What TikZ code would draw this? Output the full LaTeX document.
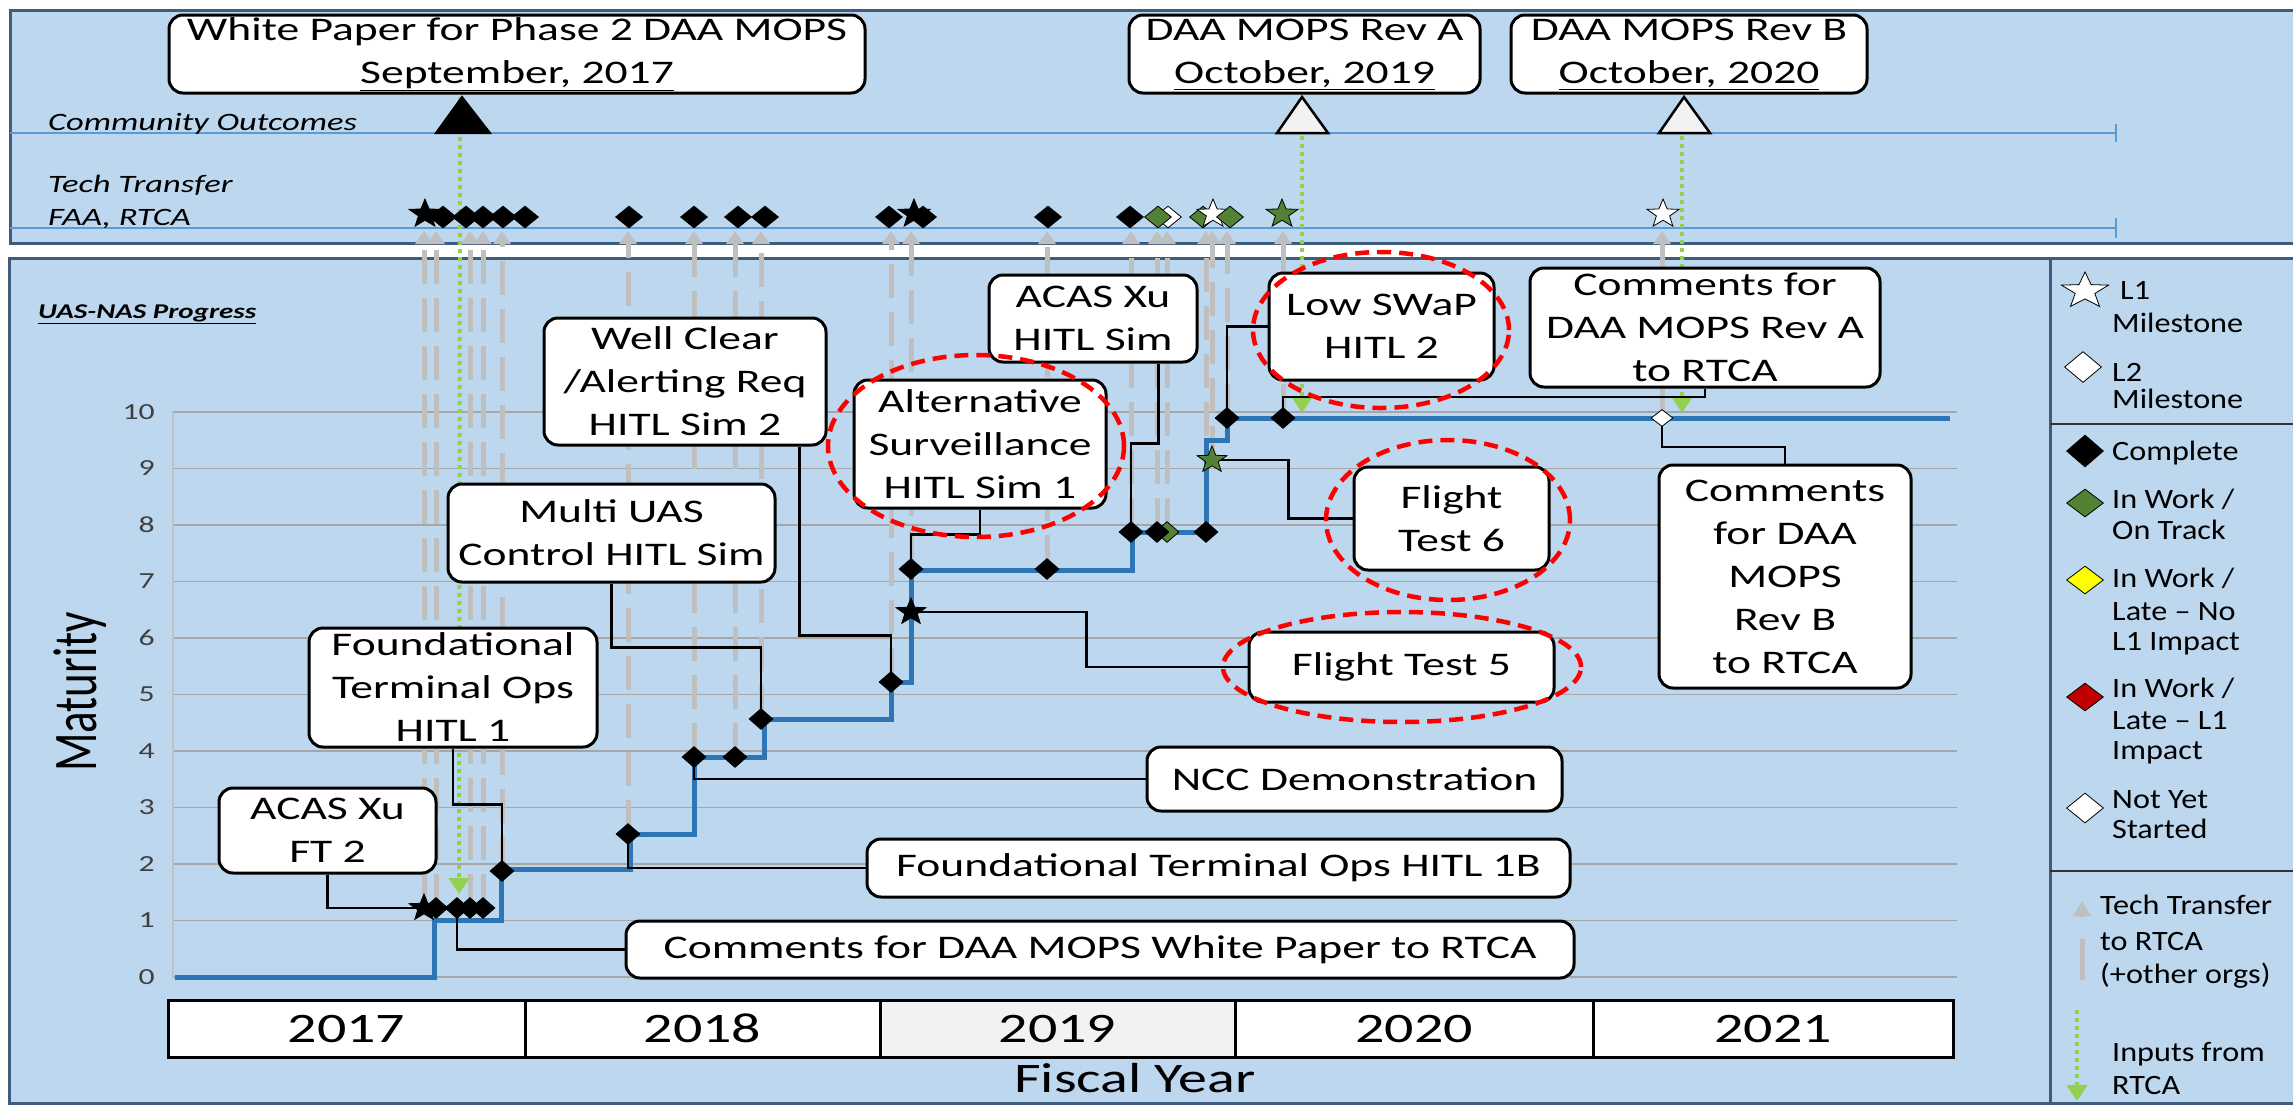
\documentclass[tikz,border=0pt]{standalone}
\usepackage{fontspec}
\usepackage{graphicx}
\setmainfont{Carlito}[FakeStretch=1.38]
\newfontfamily\legfont{Carlito}[FakeStretch=1.15]
\newfontfamily\plainfont{Carlito}
\usetikzlibrary{shapes.geometric,arrows.meta}
\definecolor{panel}{HTML}{BDD7EE}
\definecolor{pborder}{HTML}{3E5C7D}
\definecolor{rowline}{HTML}{5B9BD5}
\definecolor{gridc}{HTML}{A6A6A6}
\definecolor{stepblue}{HTML}{2E75B6}
\definecolor{gtt}{HTML}{BFBFBF}
\definecolor{ginp}{HTML}{92D050}
\definecolor{mgreen}{HTML}{548235}
\definecolor{myel}{HTML}{FFFF00}
\definecolor{mred}{HTML}{C00000}
\definecolor{trifill}{HTML}{F2F2F2}
\definecolor{axtext}{HTML}{404040}
\newcommand\bxf{\fontsize{33}{43}\selectfont}
\newcommand\yrf{\fontsize{42}{50}\selectfont}
\newcommand\rwf{\fontsize{25}{30}\selectfont\itshape}
\newcommand\axf{\fontsize{23}{26}\selectfont}
\newcommand\lgf{\legfont\fontsize{28}{33}\selectfont}
\begin{document}
\begin{tikzpicture}[x=1pt,y=-1pt,
  box/.style={draw=black, line width=3pt, fill=white, rounded corners=14pt, align=center, inner sep=0pt, font=\bxf},
  cl/.style={draw=black, line width=2.5pt},
  tt/.style={draw=gtt, line width=5pt, dash pattern=on 34pt off 14pt, -{Triangle[width=17pt,length=13pt]}},
  inp/.style={draw=ginp, line width=4pt, dash pattern=on 4pt off 4pt, -{Triangle[width=20pt,length=16pt]}},
  dk/.style={diamond, draw=black, fill=black, line width=0.8pt, minimum width=24pt, minimum height=21pt, inner sep=0pt},
  td/.style={dk, minimum width=27pt, minimum height=22pt},
  stk/.style={star, star points=5, star point ratio=2.4, draw=black, fill=black, line width=0.8pt, minimum size=28pt, inner sep=0pt, xscale=1.12},
  redov/.style={draw=red, line width=4.5pt, dash pattern=on 14pt off 8pt},
  lgt/.style={anchor=base west, font=\lgf, inner sep=0pt},
  yr/.style={draw=black, line width=3pt, fill=white, minimum height=57pt, font=\yrf, inner sep=0pt}
]
\useasboundingbox (0,0) rectangle (2293,1104);
\fill[white] (0,0) rectangle (2293,1104);

% panels
\draw[fill=panel, draw=pborder, line width=3pt] (10,10) rectangle (2320,243);
\draw[fill=panel, draw=pborder, line width=3pt] (9,258) rectangle (2320,1103);
\draw[pborder, line width=3pt] (2050,258) -- (2050,1103);
\draw[black!80, line width=2.5pt] (2050,424) -- (2300,424);
\draw[black!80, line width=2.5pt] (2050,871) -- (2300,871);

% top rows
\draw[rowline, line width=2pt] (10,133) -- (2116,133);
\draw[rowline, line width=2pt] (2116,124) -- (2116,142);
\draw[rowline, line width=2pt] (10,228) -- (2116,228);
\draw[rowline, line width=2pt] (2116,218) -- (2116,238);
\node[anchor=base west, font=\rwf, inner sep=0pt] (rco) at (48,130) {Community Outcomes};
\node[anchor=base west, font=\rwf, inner sep=0pt] (rtt) at (48,192) {Tech Transfer};
\node[anchor=base west, font=\rwf, inner sep=0pt] (rfa) at (48,225) {FAA, RTCA};

% grid
\foreach \m in {0,...,10}{
  \draw[gridc, line width=1.5pt] (173,{977-56.5*\m}) -- (1957,{977-56.5*\m});
  \node[anchor=east, font=\axf, text=axtext, inner sep=0pt] (yl\m) at (155,{977-56.5*\m}) {\m};
}
\draw[gridc!70, line width=1.2pt] (173,412) -- (173,977);
\node[anchor=base west, font=\fontsize{21}{25}\selectfont\bfseries\itshape, inner sep=0pt] (prog) at (38,318) {\underline{UAS-NAS Progress}};
\node[rotate=90, font=\plainfont\fontsize{45}{50}\selectfont, inner sep=0pt] (mat) at (80,692) {\scalebox{1}[1.38]{Maturity}};

% year bar
\node[yr, minimum width=357pt] (y17) at (346.5,1028.5) {2017};
\node[yr, minimum width=355pt] (y18) at (702.5,1028.5) {2018};
\node[yr, minimum width=355pt, fill=trifill] (y19) at (1057.5,1028.5) {2019};
\node[yr, minimum width=358pt] (y20) at (1414,1028.5) {2020};
\node[yr, minimum width=360pt] (y21) at (1773,1028.5) {2021};
\node[anchor=base, font=\yrf, inner sep=0pt] (fy) at (1135,1092) {Fiscal Year};

% chart marker positions
\coordinate (c1) at (424,908);
\coordinate (c2) at (436,908);
\coordinate (c3) at (457,908);
\coordinate (c4) at (470,908);
\coordinate (c5) at (483,908);
\coordinate (c6) at (502,871);
\coordinate (c7) at (628,834);
\coordinate (c8) at (694,757);
\coordinate (c9) at (735,757);
\coordinate (c10) at (761,719);
\coordinate (c11) at (891,682);
\coordinate (c12) at (911,612);
\coordinate (c13) at (911,569);
\coordinate (c14) at (1047,569);
\coordinate (c15) at (1131,532);
\coordinate (c16) at (1157,532);
\coordinate (c16g) at (1167,532);
\coordinate (c17) at (1206,532);
\coordinate (c18) at (1212,460);
\coordinate (c19) at (1227,418);
\coordinate (c20) at (1283,418);
\coordinate (c21) at (1662,418);
\coordinate (ttrow) at (0,231);

% tech transfer grey arrows
\foreach \c in {c1,c2,c4,c5,c6,c7,c8,c9,c10,c11,c12,c14,c15,c16,c16g,c17,c18,c19,c20,c21}{
  \draw[tt] (\c) -- (\c |- ttrow);
}

% green inputs
\coordinate (inA) at (460,97);
\coordinate (inAe) at (459,894);
\coordinate (inB) at (1302,120);
\coordinate (inBe) at (1302,413);
\coordinate (inC) at (1682,120);
\coordinate (inCe) at (1682,413);
\draw[inp] (inA) -- (inAe);
\draw[inp] (inB) -- (inBe);
\draw[inp] (inC) -- (inCe);

% triangles
\filldraw[fill=black, draw=black, line width=2pt] (436,133) -- (462,97) -- (490,133) -- cycle;
\filldraw[fill=trifill, draw=black, line width=2.5pt] (1277,133) -- (1302,97) -- (1328,133) -- cycle;
\filldraw[fill=trifill, draw=black, line width=2.5pt] (1659,133) -- (1684,97) -- (1710,133) -- cycle;

% maturity step line
\draw[stepblue, line width=5pt] (175,977) -- (434,977) -- (434,920) -- (501,920) -- (501,869) -- (630,869) -- (630,834) -- (694,834) -- (694,757) -- (764,757) -- (764,719) -- (891,719) -- (891,682) -- (911,682) -- (911,570) -- (1132,570) -- (1132,532) -- (1206,532) -- (1206,440) -- (1227,440) -- (1227,418) -- (1950,418);

% boxes
\node[box, minimum width=696pt, minimum height=78pt] (wp) at (517,54) {White Paper for Phase 2 DAA MOPS\\\underline{September, 2017}};
\node[box, minimum width=351pt, minimum height=78pt] (revA) at (1304.5,54) {DAA MOPS Rev A\\\underline{October, 2019}};
\node[box, minimum width=356pt, minimum height=78pt] (revB) at (1689,54) {DAA MOPS Rev B\\\underline{October, 2020}};
\node[box, minimum width=282pt, minimum height=127pt] (wellclear) at (685,381.5) {Well Clear\\/Alerting Req\\HITL Sim 2};
\node[box, minimum width=327pt, minimum height=98pt] (multi) at (611.5,533) {Multi UAS\\Control HITL Sim};
\node[box, minimum width=288pt, minimum height=119pt] (found1) at (453,687.5) {Foundational\\Terminal Ops\\HITL 1};
\node[box, minimum width=217pt, minimum height=85pt] (acasft) at (327.5,830.5) {ACAS Xu\\FT 2};
\node[box, minimum width=252pt, minimum height=128pt] (altsurv) at (980,444) {Alternative\\Surveillance\\HITL Sim 1};
\node[box, minimum width=208pt, minimum height=87pt] (acashitl) at (1093,318.5) {ACAS Xu\\HITL Sim};
\node[box, minimum width=225pt, minimum height=107pt] (lowswap) at (1381.5,326.5) {Low SWaP\\HITL 2};
\node[box, minimum width=350pt, minimum height=119pt] (revAc) at (1705,327.5) {Comments for\\DAA MOPS Rev A\\to RTCA};
\node[box, minimum width=252pt, minimum height=223pt] (revBc) at (1785,576.5) {Comments\\for DAA\\MOPS\\Rev B\\to RTCA};
\node[box, minimum width=195pt, minimum height=103pt] (ft6) at (1451.5,518.5) {Flight\\Test 6};
\node[box, minimum width=305pt, minimum height=70pt] (ft5) at (1401.5,667) {Flight Test 5};
\node[box, minimum width=415pt, minimum height=64pt] (ncc) at (1354.5,779) {NCC Demonstration};
\node[box, minimum width=703pt, minimum height=58pt] (ft1b) at (1218.5,868) {Foundational Terminal Ops HITL 1B};
\node[box, minimum width=948pt, minimum height=57pt] (cwp) at (1100,949.5) {Comments for DAA MOPS White Paper to RTCA};

% callouts
\draw[cl] (acasft.south) |- (c1);
\draw[cl] (found1.south) -- ++(0,56) -| (c6);
\draw[cl] (c3) |- (cwp.west);
\draw[cl] (c7) |- (ft1b.west);
\draw[cl] (multi.south) -- ++(0,64) -| (c10);
\draw[cl] (c8) |- (ncc.west);
\draw[cl] ([xshift=-28pt]wellclear.south east) -- ++(0,189) -| (c11);
\draw[cl] (altsurv.south) -- ++(0,25) -| (c13);
\draw[cl] (c12) -| ([xshift=-161pt]ft5.west) -- (ft5.west);
\draw[cl] ([xshift=-40pt]acashitl.south east) -- ++(0,80) -| (c15);
\draw[cl] (c18) -| ([xshift=-64pt]ft6.west) -- (ft6.west);
\draw[cl] (c19) |- (lowswap.west);
\draw[cl] (c20) -- ++(0,-21) -| (revAc.south);
\draw[cl] (c21) -- ++(0,29) -| (revBc.north);

% chart markers
\node[dk] (k2) at (c2) {};
\node[dk] (k3) at (c3) {};
\node[dk] (k4) at (c4) {};
\node[dk] (k5) at (c5) {};
\node[stk] (k1) at (c1) {};
\node[dk] (k6) at (c6) {};
\node[dk] (k7) at (c7) {};
\node[dk] (k8) at (c8) {};
\node[dk] (k9) at (c9) {};
\node[dk] (k10) at (c10) {};
\node[dk] (k11) at (c11) {};
\node[stk] (k12) at (c12) {};
\node[dk] (k13) at (c13) {};
\node[dk] (k14) at (c14) {};
\node[dk] (k15) at (c15) {};
\node[dk, fill=mgreen] (k16g) at (c16g) {};
\node[dk] (k16) at (c16) {};
\node[dk] (k17) at (c17) {};
\node[stk, fill=mgreen] (k18) at (c18) {};
\node[dk] (k19) at (c19) {};
\node[dk] (k20) at (c20) {};
\node[dk, fill=white, minimum width=22pt, minimum height=17pt] (k21) at (c21) {};

% top row markers
\node[td] (t2) at (443,217) {};
\node[td] (t3) at (466,217) {};
\node[td] (t4) at (483,217) {};
\node[td] (t5) at (503,217) {};
\node[td] (t6) at (525,217) {};
\node[stk, minimum size=30pt] (t1) at (425,214) {};
\node[td] (t7) at (629,217) {};
\node[td] (t8) at (694,217) {};
\node[td] (t9) at (738,217) {};
\node[td] (t10) at (765,217) {};
\node[td] (t11) at (889,217) {};
\node[td] (t12) at (923,217) {};
\node[stk, minimum size=30pt] (t13) at (914,214) {};
\node[td] (t14) at (1048,217) {};
\node[td] (t15) at (1130,217) {};
\node[td, fill=white] (t16) at (1168,217) {};
\node[td, fill=mgreen] (t17) at (1158,217) {};
\node[td, fill=mgreen] (t18) at (1203,217) {};
\node[stk, fill=white, minimum size=30pt] (t19) at (1213,214) {};
\node[td, fill=mgreen] (t20) at (1230,217) {};
\node[stk, fill=mgreen, minimum size=30pt] (t21) at (1282,214) {};
\node[stk, fill=white, minimum size=30pt] (t22) at (1663,214) {};

% red ovals
\draw[redov] (976,446) ellipse [x radius=148pt, y radius=91pt];
\draw[redov] (1381,330) ellipse [x radius=128pt, y radius=78pt];
\draw[redov] (1448,520) ellipse [x radius=122pt, y radius=80pt];
\draw[redov] (1402,667) ellipse [x radius=179pt, y radius=55pt];

% legend
\node[stk, fill=white, minimum size=38pt, xscale=1.16] (lg1) at (2085,291) {};
\node[lgt] (lgt1a) at (2120,299) {L1};
\node[lgt] (lgt1b) at (2112,332) {Milestone};
\node[dk, fill=white, minimum width=37pt, minimum height=31pt] (lg2) at (2083,367) {};
\node[lgt] (lgt2a) at (2112,381) {L2};
\node[lgt] (lgt2b) at (2112,408) {Milestone};
\node[dk, minimum width=37pt, minimum height=32pt] (lg3) at (2085,451) {};
\node[lgt] (lgt3a) at (2112,460) {Complete};
\node[dk, fill=mgreen, minimum width=37pt, minimum height=28pt] (lg4) at (2085,503) {};
\node[lgt] (lgt4a) at (2112,508) {In Work /};
\node[lgt] (lgt4b) at (2112,539) {On Track};
\node[dk, fill=myel, minimum width=37pt, minimum height=28pt] (lg5) at (2085,580) {};
\node[lgt] (lgt5a) at (2112,587) {In Work /};
\node[lgt] (lgt5b) at (2112,620) {Late – No};
\node[lgt] (lgt5c) at (2112,650) {L1 Impact};
\node[dk, fill=mred, minimum width=37pt, minimum height=28pt] (lg6) at (2085,697) {};
\node[lgt] (lgt6a) at (2112,697) {In Work /};
\node[lgt] (lgt6b) at (2112,729) {Late – L1};
\node[lgt] (lgt6c) at (2112,759) {Impact};
\node[dk, fill=white, minimum width=37pt, minimum height=30pt] (lg7) at (2085,808) {};
\node[lgt] (lgt7a) at (2112,808) {Not Yet};
\node[lgt] (lgt7b) at (2112,838) {Started};
\coordinate (lga1) at (2082,980);
\coordinate (lga2) at (2082,901);
\draw[draw=gtt, line width=5pt, dash pattern=on 41pt off 22pt, -{Triangle[width=17pt,length=15pt]}] (lga1) -- (lga2);
\node[lgt] (lgt8a) at (2100,914) {Tech Transfer};
\node[lgt] (lgt8b) at (2100,950) {to RTCA};
\node[lgt] (lgt8c) at (2100,983) {(+other orgs)};
\coordinate (lgb1) at (2077,1010);
\coordinate (lgb2) at (2077,1101);
\draw[inp] (lgb1) -- (lgb2);
\node[lgt] (lgt9a) at (2112,1061) {Inputs from};
\node[lgt] (lgt9b) at (2112,1094) {RTCA};
\end{tikzpicture}
\end{document}
